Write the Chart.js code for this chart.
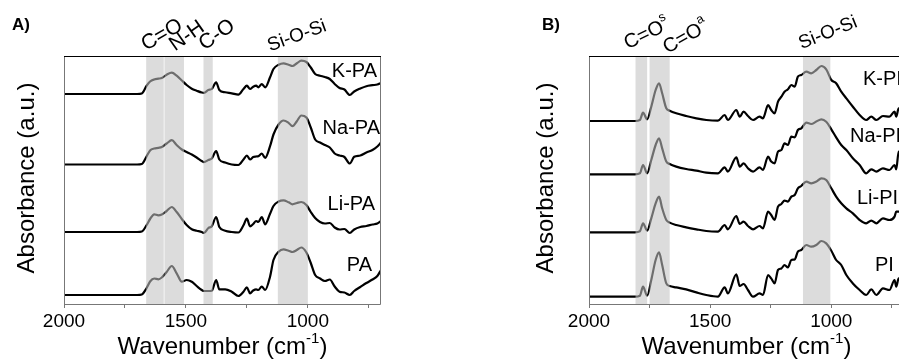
<!DOCTYPE html>
<html>
<head>
<meta charset="utf-8">
<script src="https://cdn.jsdelivr.net/npm/chart.js@4/dist/chart.umd.min.js"></script>
<style>
  body { margin: 0; background: #fff; }
  #wrap { position: relative; width: 899px; height: 361px; overflow: hidden; background: #fff; }
  .panel { position: absolute; top: 0; height: 361px; }
</style>
</head>
<body>
<div id="wrap">
  <div class="panel" style="left:0;width:450px"><canvas id="chartA" width="450" height="361"></canvas></div>
  <div class="panel" style="left:450px;width:470px"><canvas id="chartB" width="470" height="361"></canvas></div>
</div>
<script>
// wavenumber grids (cm-1)
var wavenumberA = [2000, 1900, 1800, 1700, 1681, 1661, 1647, 1630, 1613, 1599, 1579, 1558, 1538, 1517, 1497, 1476, 1456, 1435, 1426, 1408,
  1394, 1376, 1363, 1339, 1312, 1285, 1264, 1250, 1237, 1224, 1212, 1203, 1189, 1175, 1155, 1141, 1120, 1100, 1079, 1063,
  1045, 1027, 1006, 988, 970, 950, 930, 910, 890, 870, 850, 828, 810, 785, 760, 735, 715, 700];
var wavenumberB = [2000, 1900, 1810, 1790, 1777, 1760, 1743, 1725, 1711, 1698, 1681, 1667, 1640, 1599, 1557, 1516, 1468, 1440, 1427, 1392,
  1378, 1362, 1344, 1323, 1296, 1282, 1261, 1248, 1234, 1220, 1206, 1193, 1179, 1165, 1151, 1138, 1124, 1103, 1083, 1062,
  1041, 1021, 1000, 980, 959, 938, 911, 883, 856, 835, 814, 787, 760, 739, 732, 722, 710, 700];

// absorbance (a.u.), each above its own baseline
var absKPA = [0, 0, 0, 0, 0.5, 8.3, 12.5, 14.5, 15.3, 16, 19.3, 21.3, 18.3, 13.5, 9, 5.3, 3.3, 1.5, 1.2, 4,
  5, 11.7, 4, 1.7, 0.7, -0.7, 5, 8.3, 5, 7.3, 8.3, 6.7, 10, 6.7, 16.7, 25, 29.3, 30.7, 29.3, 28,
  30.7, 33.3, 32, 26.5, 20, 18.3, 17, 15, 10, 6, 4.5, -1, 2.5, 5.5, 7.8, 8.8, 9.5, 11];
var absNaPA = [0, 0, 0, 0, 0.5, 8.3, 14, 16, 16.7, 17.5, 21, 24.3, 19.5, 15, 12.5, 10, 7, 3.5, 2.3, 4.5,
  6, 13.3, 5, 2, 0, -0.5, 5, 9, 5, 7.5, 8, 8.3, 11, 6.7, 18.3, 30, 40, 44, 41.7, 38.3,
  43.3, 49, 47, 37, 25, 22, 19.5, 17, 11, 9, 7.5, 1, 7.7, 9, 12, 14.5, 18, 22];
var absLiPA = [0, 0, 0, 0, 0.5, 7, 13, 17.7, 16.7, 17.5, 21, 25, 20, 13, 7, 2.7, 1.3, 0, -1, 4,
  5.7, 15, 5, 1.3, 0, -0.5, 6.7, 13.3, 5.7, 8, 11, 10, 15, 7.7, 18.3, 26, 30.5, 31.7, 29.7, 27.7,
  29, 30, 27, 20, 14, 10, 8.5, 9, 4.5, 2.5, 3, -1, 2.5, 5, 6, 7.5, 8.5, 11];
var absPA = [0, 0, 0, 0, 0.5, 7, 13.5, 16.5, 15.7, 17.5, 23, 29, 21.7, 13.3, 15, 13.3, 9, 5, 4, 4,
  4.3, 15, 5.7, 5.7, 3.3, -1, 3.3, 7.7, 1.7, 4.5, 5.7, 5, 8.5, 5, 18.3, 35, 43.3, 45.7, 44.3, 43,
  45, 47.5, 42.5, 32, 20, 16.5, 14, 15.5, 8.5, 3.3, 2.5, 0, 4, 8, 12, 15.5, 19, 25];

var absKPI = [0, 0, 0, 1, 8.3, 1.7, 14.3, 31, 37.7, 27.7, 12.7, 10.3, 7.7, 5, 2.7, 1, 0.3, 6, 1, 11,
  4.3, 9.3, 5, 1, 4.3, 2.7, 16, 11, 7.7, 19.3, 24.3, 29.3, 31.7, 36, 34.3, 44.3, 46, 49.3, 47.7, 51,
  55, 51.7, 41, 37.7, 29.3, 22.7, 14.3, 6, 1, 4.3, 1, 5, 4.3, 9.3, 4.3, 12.7, 10, 12];
var absNaPI = [0, 0, 0, 1, 9.3, 1, 14.3, 29.3, 36, 26, 12.7, 10.3, 7.7, 5.3, 3.7, 1.7, 1, 7, 2.7, 17,
  7.7, 11, 6, 2.7, 7, 4.3, 17.7, 12.7, 11, 22.7, 24.3, 31, 29.3, 37.7, 37, 44.3, 46, 51.7, 50.3, 52.7,
  55, 52.5, 45, 37, 29.3, 24.3, 16, 9.3, 1, 5, 2.7, 6, 4.3, 9.3, 5, 22.7, 20, 18];
var absLiPI = [0, 0, 0, 1, 9, 1.7, 14, 29, 35.7, 24, 12.3, 9.7, 7.3, 5, 3, 1.3, 0.7, 7.3, 3, 16.3,
  8.3, 10.7, 6.3, 3, 6.3, 4, 20.7, 17.3, 12.3, 25.7, 28.3, 31.7, 30.7, 35.7, 37.3, 44, 46.3, 50.7, 49, 50.7,
  54, 52.3, 44, 35.7, 29, 24, 19, 12.3, 9, 11.7, 9, 14, 12.3, 15.7, 20.7, 20.7, 20, 20];
var absPI = [0, 0, 0, 1, 10, 1, 16.7, 36.7, 44.3, 31.7, 13.3, 10.7, 9.3, 7.3, 4.3, 1.7, 0, 9.3, 3.3, 22.3,
  10.7, 12.7, 6.7, 0, 3.3, 1.7, 21.7, 18.3, 13.3, 26.7, 28.3, 31.7, 29.3, 36.7, 37.3, 45, 46.7, 51.7, 50, 51.7,
  55.7, 53.3, 46, 36.7, 31.7, 21.7, 13.3, 6.7, 1.7, 7.3, 1.7, 8.3, 6.7, 16.7, 10, 18.3, 16, 15];

// vertical stacking offsets of the traces
var namesA = ['K-PA', 'Na-PA', 'Li-PA', 'PA'];
var offsetsA = [210, 139.5, 72, 9];
var namesB = ['K-PI', 'Na-PI', 'Li-PI', 'PI'];
var offsetsB = [183, 129.7, 71.7, 7.3];

// shaded bands [from, to] in cm-1
var bandsA = [[1663, 1591], [1588, 1508], [1428, 1390], [1123, 1000]];
var bandsB = [[1808, 1760], [1750, 1667], [1117, 1004]];

var xTicks = [2000, 1750, 1500, 1250, 1000, 750];
var xLabels = [2000, 1500, 1000];

var FONT = 'Arial, "Liberation Sans", sans-serif';
Chart.defaults.font.family = FONT;
Chart.defaults.color = '#000';

function makeSeries(wn, vals, off) {
  var pts = [];
  for (var i = 0; i < wn.length; i++) {
    pts.push({x: wn[i], y: vals[i] + off});
  }
  return pts;
}

// draws a rotated text made of parts (normal + superscript)
function drawParts(ctx, parts, cx, cy, deg) {
  ctx.save();
  ctx.translate(cx, cy);
  ctx.rotate(deg * Math.PI / 180);
  ctx.textBaseline = 'middle';
  ctx.textAlign = 'left';
  var total = 0;
  parts.forEach(function(p) {
    ctx.font = p.size + 'px ' + FONT;
    p.w = ctx.measureText(p.t).width;
    total += p.w;
  });
  var x = -total / 2;
  parts.forEach(function(p) {
    ctx.font = p.size + 'px ' + FONT;
    ctx.fillText(p.t, x, p.dy || 0);
    x += p.w;
  });
  ctx.restore();
}

var decor = {
  id: 'decor',
  afterDatasetsDraw: function(chart, args, o) {
    var ctx = chart.ctx, a = chart.chartArea, xs = chart.scales.x;
    ctx.save();
    ctx.fillStyle = 'rgba(193,193,193,0.57)';
    o.bands.forEach(function(b) {
      var x1 = xs.getPixelForValue(b[0]), x2 = xs.getPixelForValue(b[1]);
      ctx.fillRect(Math.min(x1, x2), a.top, Math.abs(x2 - x1), a.bottom - a.top);
    });
    ctx.lineWidth = 1;
    ctx.strokeStyle = '#777';
    ctx.beginPath();
    ctx.moveTo(a.left + 0.5, a.top);
    ctx.lineTo(a.left + 0.5, a.bottom + 0.5);
    ctx.lineTo(a.right - 0.5, a.bottom + 0.5);
    ctx.lineTo(a.right - 0.5, a.top);
    ctx.stroke();
    ctx.strokeStyle = '#000';
    ctx.beginPath();
    ctx.moveTo(a.left, a.top + 0.5);
    ctx.lineTo(a.right, a.top + 0.5);
    ctx.stroke();
    ctx.restore();
  },
  afterDraw: function(chart, args, o) {
    var ctx = chart.ctx;
    ctx.save();
    ctx.fillStyle = '#000';
    // panel letter
    ctx.font = 'bold 17px ' + FONT;
    ctx.textBaseline = 'alphabetic';
    ctx.textAlign = 'left';
    ctx.fillText(o.letter, o.letterX, 30);
    // trace names
    ctx.font = '20px ' + FONT;
    ctx.textBaseline = 'middle';
    o.names.forEach(function(n, i) {
      ctx.textAlign = o.nameAlign;
      ctx.fillText(n, o.nameX[i], o.nameY[i]);
    });
    // peak annotations
    o.notes.forEach(function(n) {
      drawParts(ctx, n.parts, n.x, n.y, n.rot);
    });
    // axis titles
    drawParts(ctx, [{t: 'Absorbance (a.u.)', size: 24}], o.yTitleX, 178, -90);
    drawParts(ctx, [{t: 'Wavenumber (cm', size: 24}, {t: '-1', size: 15, dy: -8}, {t: ')', size: 24}],
      (chart.chartArea.left + chart.chartArea.right) / 2, 347, 0);
    ctx.restore();
  }
};

function buildChart(id, wn, series, offsets, yWidth, padRight, deco) {
  var datasets = series.map(function(vals, i) {
    return {
      label: deco.names[i],
      data: makeSeries(wn, vals, offsets[i]),
      borderColor: '#000',
      borderWidth: 2.2,
      pointRadius: 0,
      fill: false,
      cubicInterpolationMode: 'monotone'
    };
  });
  return new Chart(document.getElementById(id), {
    type: 'line',
    data: {datasets: datasets},
    plugins: [decor],
    options: {
      responsive: false,
      animation: false,
      layout: {padding: {left: 0, right: padRight, top: 56, bottom: 0}},
      plugins: {legend: {display: false}, tooltip: {enabled: false}, decor: deco},
      scales: {
        x: {
          type: 'linear',
          min: 700,
          max: 2000,
          reverse: true,
          afterBuildTicks: function(s) { s.ticks = xTicks.map(function(v) { return {value: v}; }); },
          afterFit: function(s) { s.height = 57; },
          ticks: {
            autoSkip: false,
            maxRotation: 0,
            padding: 2,
            font: {size: 19},
            color: '#000',
            callback: function(v) { return xLabels.indexOf(v) >= 0 ? String(v) : ''; }
          },
          grid: {display: true, drawOnChartArea: false, drawTicks: true, tickLength: 4, color: '#777'},
          border: {display: false}
        },
        y: {
          min: 0,
          max: 248,
          afterFit: function(s) { s.width = yWidth; },
          ticks: {display: false},
          grid: {display: false},
          border: {display: false}
        }
      }
    }
  });
}

buildChart('chartA', wavenumberA, [absKPA, absNaPA, absLiPA, absPA], offsetsA, 64, 69, {
  bands: bandsA,
  letter: 'A)', letterX: 12,
  names: namesA, nameAlign: 'right',
  nameX: [377, 380, 375, 372], nameY: [71, 128, 204, 265],
  yTitleX: 27,
  notes: [
    {parts: [{t: 'C=O', size: 21}], x: 162, y: 35, rot: -30},
    {parts: [{t: 'N-H', size: 21}], x: 187, y: 36, rot: -35},
    {parts: [{t: 'C-O', size: 21}], x: 217, y: 35, rot: -35},
    {parts: [{t: 'Si-O-Si', size: 19}], x: 297, y: 36, rot: -20}
  ]
});

buildChart('chartB', wavenumberB, [absKPI, absNaPI, absLiPI, absPI], offsetsB, 139, 16, {
  bands: bandsB,
  letter: 'B)', letterX: 92,
  names: namesB, nameAlign: 'left',
  nameX: [413, 400, 407, 425], nameY: [79, 136, 198, 265],
  yTitleX: 96,
  notes: [
    {parts: [{t: 'C=O', size: 20}, {t: 's', size: 13, dy: -8}], x: 197, y: 34, rot: -26},
    {parts: [{t: 'C=O', size: 20}, {t: 'a', size: 13, dy: -8}], x: 236, y: 37, rot: -30},
    {parts: [{t: 'Si-O-Si', size: 19}], x: 378, y: 33, rot: -22}
  ]
});
</script>
</body>
</html>
